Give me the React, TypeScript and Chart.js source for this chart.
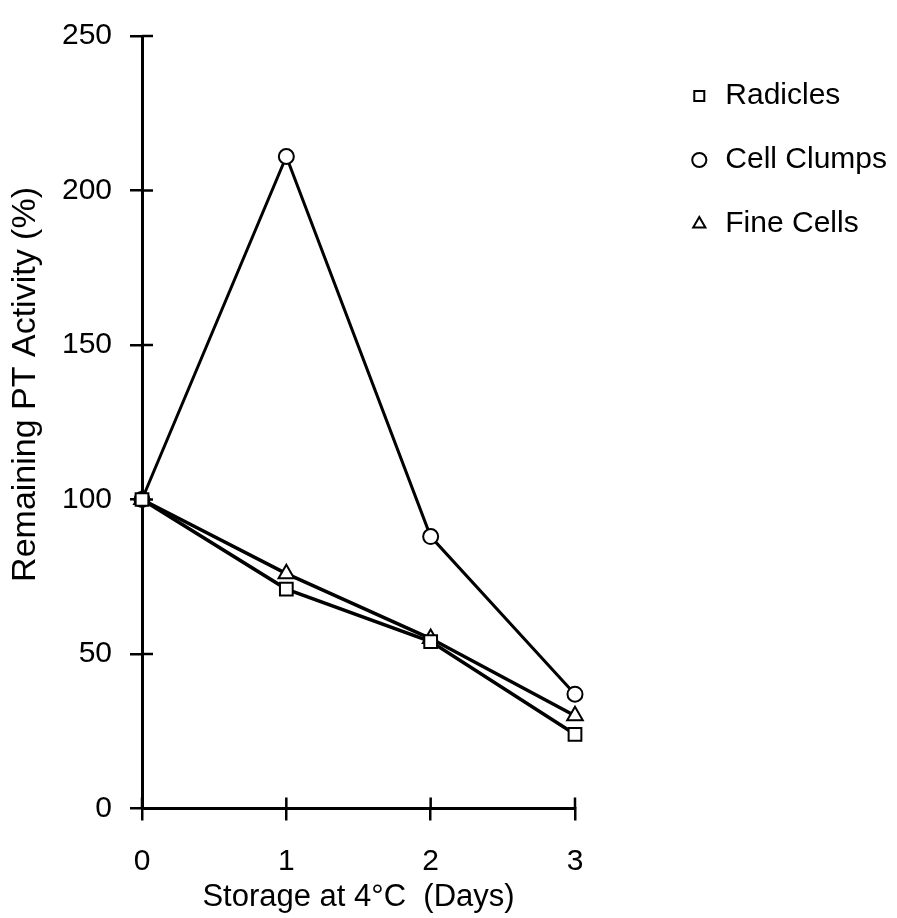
import React, { useEffect, useRef } from 'react';
import { Chart, registerables } from 'chart.js';

Chart.register(...registerables);

// ---- data ----
const categories = ['0', '1', '2', '3'];
const radicles = [100, 71, 54, 24];
const cellClumps = [100, 211, 88, 37];
const fineCells = [100, 76, 55, 30];
const yTickValues = [0, 50, 100, 150, 200, 250];
const seriesNames = ['Radicles', 'Cell Clumps', 'Fine Cells'];
const xTitle = 'Storage at 4°C  (Days)';
const yTitle = 'Remaining PT Activity (%)';

const FONT = '"Liberation Sans", Arial, Helvetica, sans-serif';

const innerTicks = {
  id: 'innerTicks',
  beforeDatasetsDraw(chart: any) {
    const { ctx, chartArea, scales } = chart;
    ctx.save();
    ctx.strokeStyle = '#000';
    ctx.lineWidth = 2.5;
    ctx.beginPath();
    scales.y.ticks.forEach((_t: any, i: number) => {
      const py = scales.y.getPixelForTick(i);
      ctx.moveTo(chartArea.left, py);
      ctx.lineTo(chartArea.left + 11, py);
    });
    scales.x.ticks.forEach((_t: any, i: number) => {
      const px = scales.x.getPixelForTick(i);
      ctx.moveTo(px, chartArea.bottom);
      ctx.lineTo(px, chartArea.bottom - 11);
    });
    ctx.stroke();
    ctx.restore();
  },
};

export default function App() {
  const ref = useRef<HTMLCanvasElement>(null);

  useEffect(() => {
    const common = {
      borderColor: '#000',
      pointBorderColor: '#000',
      pointBackgroundColor: '#fff',
      pointBorderWidth: 2,
      tension: 0,
      clip: false as any,
      fill: false,
    };
    const chart = new Chart(ref.current as HTMLCanvasElement, {
      type: 'line',
      data: {
        labels: categories,
        datasets: [
          { ...common, label: seriesNames[0], data: radicles, pointStyle: 'rect', pointRadius: 9, borderWidth: 3.5 },
          { ...common, label: seriesNames[1], data: cellClumps, pointStyle: 'circle', pointRadius: 7.5, borderWidth: 3 },
          { ...common, label: seriesNames[2], data: fineCells, pointStyle: 'triangle', pointRadius: 9, borderWidth: 3.5 },
        ],
      },
      options: {
        animation: false,
        responsive: true,
        maintainAspectRatio: false,
        layout: { padding: { top: 32.5, left: 0, right: 0, bottom: 0 } },
        plugins: {
          tooltip: { enabled: false },
          legend: {
            position: 'right',
            align: 'start',
            maxWidth: 400,
            title: { display: true, text: '', font: { size: 10, lineHeight: 1.45 }, padding: 0 },
            labels: {
              usePointStyle: true,
              boxWidth: 22,
              boxHeight: 10,
              padding: 34,
              color: '#000',
              font: { family: FONT, size: 30 },
            },
          },
        },
        scales: {
          x: {
            type: 'category',
            offset: false,
            grid: { display: true, drawOnChartArea: false, drawTicks: true, tickLength: 12, color: '#000', lineWidth: 2.5 },
            border: { display: true, color: '#000', width: 3 },
            ticks: { color: '#000', font: { family: FONT, size: 30 }, padding: 23, maxRotation: 0, autoSkip: false },
            title: {
              display: true,
              text: xTitle,
              color: '#000',
              font: { family: FONT, size: 31, lineHeight: 1.2 },
              padding: { top: 0, bottom: 2.4 },
            },
            afterFit: (s: any) => { s.height = 109.5; },
          },
          y: {
            type: 'linear',
            min: 0,
            max: 250,
            afterBuildTicks: (s: any) => { s.ticks = yTickValues.map((v) => ({ value: v })); },
            grid: { display: true, drawOnChartArea: false, drawTicks: true, tickLength: 12, color: '#000', lineWidth: 2.5 },
            border: { display: true, color: '#000', width: 3 },
            ticks: { color: '#000', font: { family: FONT, size: 30 }, padding: 18 },
            title: {
              display: true,
              text: '        ' + yTitle,
              color: '#000',
              font: { family: FONT, size: 34, lineHeight: 1.2 },
              padding: { top: 5.5, bottom: 0 },
            },
            afterFit: (s: any) => { s.width = 142; },
          },
          y2: {
            type: 'linear',
            position: 'right',
            display: true,
            grid: { display: false },
            border: { display: false },
            ticks: { display: false },
            afterFit: (s: any) => { s.width = 79.3; },
          },
        },
      } as any,
      plugins: [innerTicks],
    });
    return () => chart.destroy();
  }, []);

  return (
    <div style={{ position: 'absolute', left: 0, top: 0, width: 897, height: 918, background: '#fff' }}>
      <canvas ref={ref} />
    </div>
  );
}
